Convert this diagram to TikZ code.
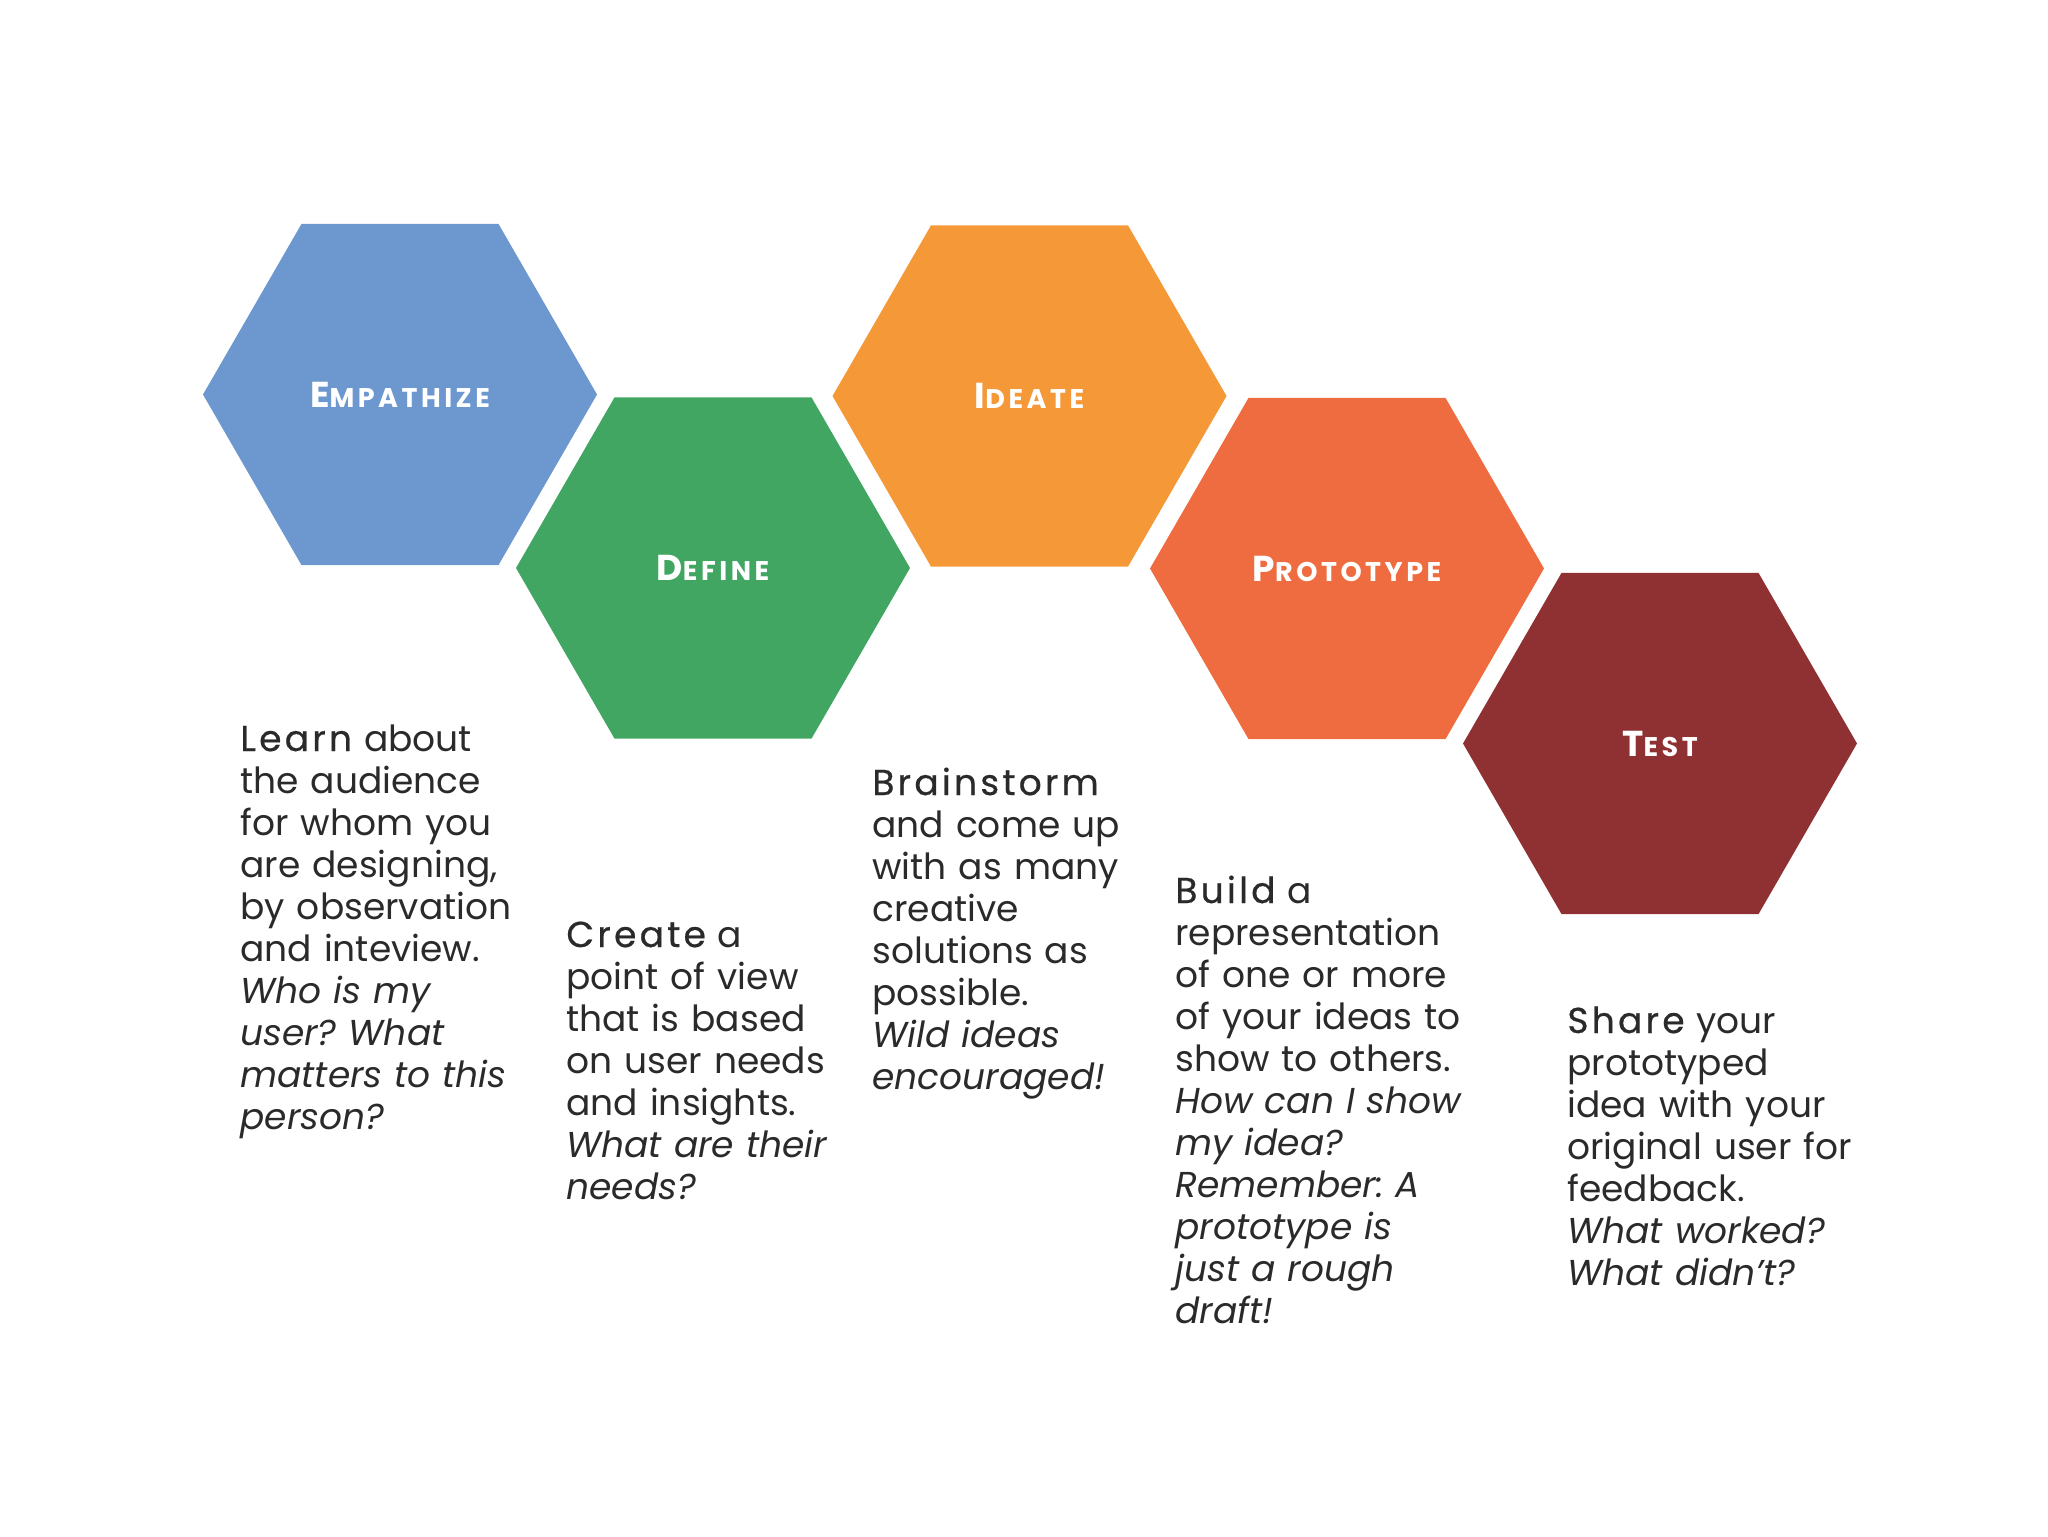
\documentclass[tikz,border=0pt]{standalone}
\usepackage{fontspec}
\usetikzlibrary{shapes.geometric}
\setmainfont{Poppins}
\newfontfamily\keyfont[LetterSpace=9,FakeBold=0.6]{Poppins}
\newfontfamily\tagfont[LetterSpace=13]{Poppins}
\frenchspacing

\definecolor{empblue}{HTML}{6C97CF}
\definecolor{defgreen}{HTML}{40A661}
\definecolor{ideorange}{HTML}{F49838}
\definecolor{procoral}{HTML}{EF6C41}
\definecolor{tstred}{HTML}{8F3032}
\definecolor{ink}{HTML}{2B2A2A}

% stage name in small capitals
\newcommand{\stagename}[2]{{\tagfont\bfseries\fontsize{18}{18}\selectfont #1}{\tagfont\bfseries\fontsize{13.5}{14}\selectfont #2}}
\newcommand{\keyword}[1]{{\keyfont #1}}

\tikzset{
  hexa/.style={regular polygon, regular polygon sides=6, minimum size=197pt,
    inner sep=0pt, outer sep=0pt, text=white, fill=#1},
  blurb/.style={anchor=base west, align=left, text width=150pt, inner sep=0pt,
    text=ink, font=\fontsize{18}{21}\selectfont}
}

\begin{document}
\begin{tikzpicture}[x=0.5pt, y=-0.5pt]
  \useasboundingbox (0,0) rectangle (2048,1536);

  % the five stages
  \node[hexa=empblue]   (emp) at (400,394.5)  {\stagename{E}{MPATHIZE}};
  \node[hexa=defgreen]  (def) at (713,568)    {\stagename{D}{EFINE}};
  \node[hexa=ideorange] (ide) at (1029.5,396) {\stagename{I}{DEATE}};
  \node[hexa=procoral]  (pro) at (1347,568.5) {\stagename{P}{ROTOTYPE}};
  \node[hexa=tstred]    (tst) at (1660,743.5) {\stagename{T}{EST}};

  % descriptions
  \node[blurb] (emptext) at (240,751) {\keyword{Learn} about\\ the audience\\ for whom you\\ are designing,\\ by observation\\ and inteview.\\ \textit{Who is my}\\ \textit{user? What}\\ \textit{matters to this}\\ \textit{person?}};

  \node[blurb] (deftext) at (566,947) {\keyword{Create} a\\ point of view\\ that is based\\ on user needs\\ and insights.\\ \textit{What are their}\\ \textit{needs?}};

  \node[blurb] (idetext) at (872,795) {\keyword{Brainstorm}\\ and come up\\ with as many\\ creative\\ solutions as\\ possible.\\ \textit{Wild ideas}\\ \textit{encouraged!}};

  \node[blurb] (protext) at (1175,903) {\keyword{Build} a\\ representation\\ of one or more\\ of your ideas to\\ show to others.\\ \textit{How can I show}\\ \textit{my idea?}\\ \textit{Remember: A}\\ \textit{prototype is}\\ \textit{just a rough}\\ \textit{draft!}};

  \node[blurb] (tsttext) at (1567,1033) {\keyword{Share} your\\ prototyped\\ idea with your\\ original user for\\ feedback.\\ \textit{What worked?}\\ \textit{What didn’t?}};
\end{tikzpicture}
\end{document}
